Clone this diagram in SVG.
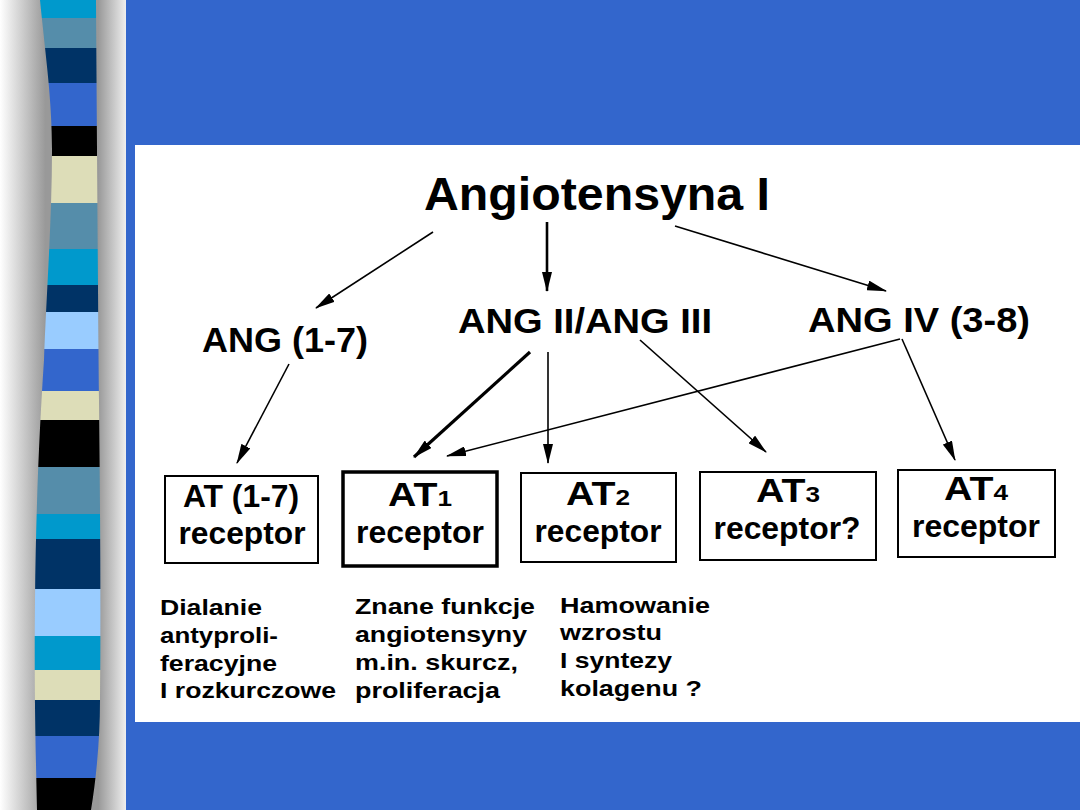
<svg xmlns="http://www.w3.org/2000/svg" width="1080" height="810" viewBox="0 0 1080 810">
<defs>
<style>
.t{font-family:"Liberation Sans",Arial,sans-serif;font-weight:bold;fill:#000}
.box{fill:#fff;stroke:#000;stroke-width:2}
.ln{stroke:#000;stroke-width:1.6;fill:none}
</style>
<linearGradient id="g" x1="0" y1="0" x2="126" y2="0" gradientUnits="userSpaceOnUse">
<stop offset="0" stop-color="#ffffff"/>
<stop offset="0.36" stop-color="#999999"/>
<stop offset="0.78" stop-color="#999999"/>
<stop offset="1" stop-color="#eeeeee"/>
</linearGradient>
<clipPath id="bar"><path d="M40,0 C46,60 52,100 52,150 C52,220 46,300 44,360 C40,420 36,500 35,600 C34,700 36,760 37,810 L91,810 C96,780 100,740 100,700 C101,600 100,500 99,400 C98,300 97,150 96,0 Z"/></clipPath>
<marker id="ah" viewBox="0 0 20 10" refX="19" refY="5" markerWidth="20" markerHeight="10" markerUnits="userSpaceOnUse" orient="auto"><path d="M0,0 L20,5 L0,10 Z" fill="#000"/></marker>
</defs>
<rect x="0" y="0" width="126" height="810" fill="url(#g)"/>
<g clip-path="url(#bar)">
<rect x="30" y="0" width="80" height="18" fill="#0099CC"/>
<rect x="30" y="18" width="80" height="30" fill="#558DAA"/>
<rect x="30" y="48" width="80" height="35" fill="#003366"/>
<rect x="30" y="83" width="80" height="43" fill="#3366CC"/>
<rect x="30" y="126" width="80" height="30" fill="#000000"/>
<rect x="30" y="156" width="80" height="47" fill="#DDDDB8"/>
<rect x="30" y="203" width="80" height="46" fill="#558DAA"/>
<rect x="30" y="249" width="80" height="36" fill="#0099CC"/>
<rect x="30" y="285" width="80" height="27" fill="#003366"/>
<rect x="30" y="312" width="80" height="37" fill="#99CCFF"/>
<rect x="30" y="349" width="80" height="42" fill="#3366CC"/>
<rect x="30" y="391" width="80" height="29" fill="#DDDDB8"/>
<rect x="30" y="420" width="80" height="47" fill="#000000"/>
<rect x="30" y="467" width="80" height="47" fill="#558DAA"/>
<rect x="30" y="514" width="80" height="25" fill="#0099CC"/>
<rect x="30" y="539" width="80" height="50" fill="#003366"/>
<rect x="30" y="589" width="80" height="47" fill="#99CCFF"/>
<rect x="30" y="636" width="80" height="34" fill="#0099CC"/>
<rect x="30" y="670" width="80" height="30" fill="#DDDDB8"/>
<rect x="30" y="700" width="80" height="36" fill="#003366"/>
<rect x="30" y="736" width="80" height="42" fill="#3366CC"/>
<rect x="30" y="778" width="80" height="32" fill="#000000"/>
</g>
<rect x="126" y="0" width="954" height="810" fill="#3366CC"/>
<rect x="135" y="145" width="945" height="577" fill="#ffffff"/>

<g id="connectors">
<line class="ln" x1="433" y1="232" x2="316" y2="308" marker-end="url(#ah)"/>
<line class="ln" x1="547" y1="222" x2="547" y2="291" style="stroke-width:2.6" marker-end="url(#ah)"/>
<line class="ln" x1="675" y1="226" x2="886" y2="291" marker-end="url(#ah)"/>
<line class="ln" x1="289" y1="364" x2="237" y2="463" marker-end="url(#ah)"/>
<line class="ln" x1="530" y1="352" x2="414" y2="457" style="stroke-width:3.2" marker-end="url(#ah)"/>
<line class="ln" x1="548" y1="352" x2="548" y2="463" marker-end="url(#ah)"/>
<line class="ln" x1="640" y1="340" x2="766" y2="452" marker-end="url(#ah)"/>
<line class="ln" x1="900" y1="339" x2="447" y2="456" marker-end="url(#ah)"/>
<line class="ln" x1="902" y1="339" x2="955" y2="460" marker-end="url(#ah)"/>
</g>

<g id="n-ang1"><text class="t" x="597" y="210" font-size="46" text-anchor="middle" textLength="346" lengthAdjust="spacingAndGlyphs">Angiotensyna I</text></g>
<g id="n-ang17"><text class="t" x="285" y="352" font-size="35" text-anchor="middle" textLength="166" lengthAdjust="spacingAndGlyphs">ANG (1-7)</text></g>
<g id="n-ang2"><text class="t" x="585" y="333" font-size="35" text-anchor="middle" textLength="254" lengthAdjust="spacingAndGlyphs">ANG II/ANG III</text></g>
<g id="n-ang4"><text class="t" x="919" y="332" font-size="35" text-anchor="middle" textLength="222" lengthAdjust="spacingAndGlyphs">ANG IV (3-8)</text></g>

<g id="n-at17">
<rect class="box" x="165" y="476" width="153" height="87"/>
<text class="t" x="241" y="507" font-size="32" text-anchor="middle" textLength="116" lengthAdjust="spacingAndGlyphs">AT (1-7)</text>
<text class="t" x="242" y="544" font-size="31" text-anchor="middle" textLength="127" lengthAdjust="spacingAndGlyphs">receptor</text>
</g>
<g id="n-at1">
<rect class="box" x="343" y="472" width="154" height="94" style="stroke-width:3.5"/>
<text class="t" x="420" y="506" font-size="33" text-anchor="middle" textLength="64" lengthAdjust="spacingAndGlyphs">AT<tspan font-size="22">1</tspan></text>
<text class="t" x="420" y="543" font-size="31" text-anchor="middle" textLength="128" lengthAdjust="spacingAndGlyphs">receptor</text>
</g>
<g id="n-at2">
<rect class="box" x="521" y="473" width="155" height="89"/>
<text class="t" x="598" y="505" font-size="33" text-anchor="middle" textLength="64" lengthAdjust="spacingAndGlyphs">AT<tspan font-size="22">2</tspan></text>
<text class="t" x="598" y="542" font-size="31" text-anchor="middle" textLength="127" lengthAdjust="spacingAndGlyphs">receptor</text>
</g>
<g id="n-at3">
<rect class="box" x="700" y="472" width="176" height="88"/>
<text class="t" x="788" y="502" font-size="33" text-anchor="middle" textLength="64" lengthAdjust="spacingAndGlyphs">AT<tspan font-size="22">3</tspan></text>
<text class="t" x="787" y="539" font-size="31" text-anchor="middle" textLength="147" lengthAdjust="spacingAndGlyphs">receptor?</text>
</g>
<g id="n-at4">
<rect class="box" x="898" y="470" width="157" height="87"/>
<text class="t" x="976" y="500" font-size="33" text-anchor="middle" textLength="64" lengthAdjust="spacingAndGlyphs">AT<tspan font-size="22">4</tspan></text>
<text class="t" x="976" y="537" font-size="31" text-anchor="middle" textLength="128" lengthAdjust="spacingAndGlyphs">receptor</text>
</g>

<g id="n-desc1" font-size="22">
<text class="t" x="160" y="615" textLength="102" lengthAdjust="spacingAndGlyphs">Dialanie</text>
<text class="t" x="160" y="643" textLength="118" lengthAdjust="spacingAndGlyphs">antyproli-</text>
<text class="t" x="160" y="671" textLength="117" lengthAdjust="spacingAndGlyphs">feracyjne</text>
<text class="t" x="160" y="698" textLength="176" lengthAdjust="spacingAndGlyphs">I rozkurczowe</text>
</g>
<g id="n-desc2" font-size="22">
<text class="t" x="355" y="614" textLength="180" lengthAdjust="spacingAndGlyphs">Znane funkcje</text>
<text class="t" x="355" y="642" textLength="172" lengthAdjust="spacingAndGlyphs">angiotensyny</text>
<text class="t" x="355" y="670" textLength="163" lengthAdjust="spacingAndGlyphs">m.in. skurcz,</text>
<text class="t" x="355" y="698" textLength="145" lengthAdjust="spacingAndGlyphs">proliferacja</text>
</g>
<g id="n-desc3" font-size="22">
<text class="t" x="560" y="613" textLength="150" lengthAdjust="spacingAndGlyphs">Hamowanie</text>
<text class="t" x="560" y="640" textLength="102" lengthAdjust="spacingAndGlyphs">wzrostu</text>
<text class="t" x="560" y="668" textLength="112" lengthAdjust="spacingAndGlyphs">I syntezy</text>
<text class="t" x="560" y="696" textLength="142" lengthAdjust="spacingAndGlyphs">kolagenu ?</text>
</g>
</svg>
